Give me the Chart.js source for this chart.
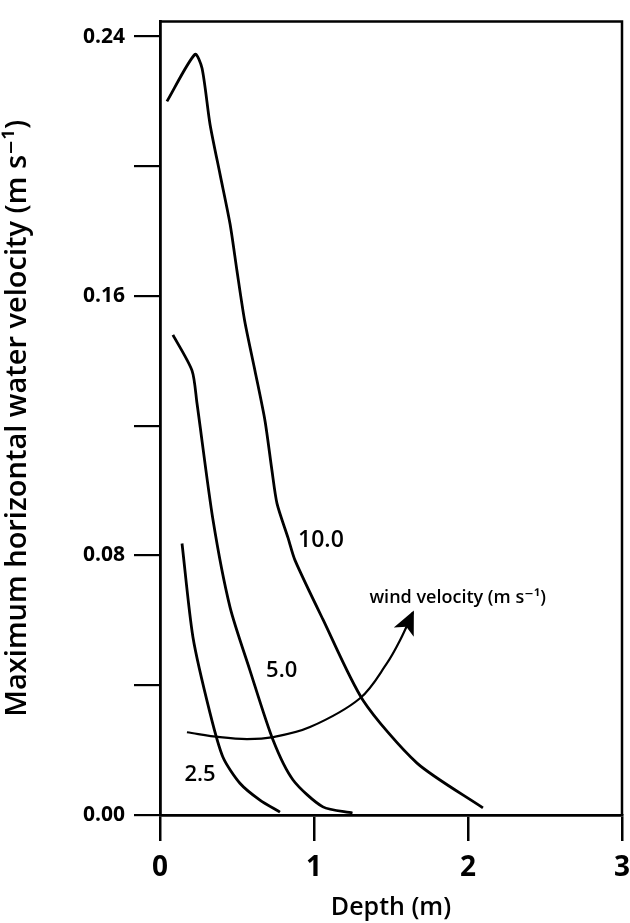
<!DOCTYPE html>
<html>
<head>
<meta charset="utf-8">
<script src="https://cdn.jsdelivr.net/npm/chart.js@4"></script>
<style>
  html, body { margin: 0; padding: 0; background: #fff; }
  canvas { display: block; }
</style>
</head>
<body>
<canvas id="velChart" width="630" height="923"></canvas>
<script>
/* Данные: глубина (м) и макс. горизонтальная скорость воды (м/с) */
const xTicks = [0, 1, 2, 3];
const yTicks = [0, 0.04, 0.08, 0.12, 0.16, 0.20, 0.24];
const yLabeled = [0, 0.08, 0.16, 0.24];

const depth10 = [0.045, 0.227, 0.273, 0.325, 0.390, 0.455, 0.500, 0.550, 0.617, 0.682, 0.727, 0.760, 0.831, 0.877, 1.058, 1.318, 1.669, 2.097];
const vel10   = [0.2200, 0.2345, 0.2302, 0.2129, 0.1975, 0.1822, 0.1677, 0.1523, 0.1369, 0.1215, 0.1062, 0.0960, 0.0855, 0.0785, 0.0603, 0.0354, 0.0160, 0.0022];

const depth5 = [0.084, 0.208, 0.240, 0.344, 0.455, 0.584, 0.734, 0.864, 1.058, 1.25];
const vel5   = [0.148, 0.137, 0.127, 0.091, 0.064, 0.0446, 0.0231, 0.0108, 0.0025, 0.0006];

const depth25 = [0.143, 0.214, 0.325, 0.409, 0.519, 0.649, 0.779];
const vel25   = [0.0837, 0.0548, 0.0314, 0.0178, 0.0098, 0.0046, 0.0009];

// стрелка "wind velocity"
const arrowX = [0.175, 0.390, 0.565, 0.734, 0.974, 1.299, 1.474, 1.558, 1.643];
const arrowY = [0.0255, 0.0240, 0.0234, 0.0240, 0.0271, 0.0360, 0.0468, 0.0538, 0.0625];

const curveLabels = ["10.0", "5.0", "2.5"];
const arrowLabel = "wind velocity (m s\u207B\u00B9)";

const toPoints = (xs, ys) => xs.map((x, i) => ({ x: x, y: ys[i] }));

/* Подписи у кривых (позиции в координатах данных) */
const notes = [
    { text: curveLabels[0], x: 1.045, y: 0.0846, size: 23 },
    { text: curveLabels[1], x: 0.79, y: 0.0446, size: 22 },
    { text: curveLabels[2], x: 0.26, y: 0.0123, size: 22 },
    { text: arrowLabel, x: 1.36, y: 0.0668, size: 18, align: "left" }
];

const FONT = "'Open Sans', 'DejaVu Sans', sans-serif";

/* Рамка сверху/справа, стрелка и подписи */
const extras = {
    id: "extras",
    afterDatasetsDraw(chart) {
        const { ctx, chartArea: a, scales: { x, y } } = chart;
        ctx.save();
        ctx.strokeStyle = "#000";
        ctx.lineWidth = 2.5;
        ctx.beginPath();
        ctx.moveTo(a.left, a.top);
        ctx.lineTo(a.right, a.top);
        ctx.lineTo(a.right, a.bottom);
        ctx.stroke();

        // наконечник стрелки
        const pts = chart.getDatasetMeta(3).data;
        const p1 = pts[pts.length - 2], p2 = pts[pts.length - 1];
        const ang = Math.atan2(p2.y - p1.y, p2.x - p1.x);
        const len = 22, half = 11;
        ctx.fillStyle = "#000";
        ctx.translate(p2.x, p2.y);
        ctx.rotate(ang);
        ctx.beginPath();
        ctx.moveTo(2, 0);
        ctx.lineTo(-len, -half);
        ctx.lineTo(-len + 6, 0);
        ctx.lineTo(-len, half);
        ctx.closePath();
        ctx.fill();
        ctx.setTransform(1, 0, 0, 1, 0, 0);

        // подписи
        notes.forEach(n => {
            ctx.font = `600 ${n.size}px ${FONT}`;
            ctx.textAlign = n.align || "center";
            ctx.textBaseline = "middle";
            ctx.fillText(n.text, x.getPixelForValue(n.x), y.getPixelForValue(n.y));
        });
        ctx.restore();
    }
};

const whiteBg = {
    id: "whiteBg",
    beforeDraw(chart) {
        const ctx = chart.ctx;
        ctx.save();
        ctx.fillStyle = "#fff";
        ctx.fillRect(0, 0, chart.width, chart.height);
        ctx.restore();
    }
};

const lineStyle = {
    borderColor: "#000",
    borderWidth: 2.8,
    pointRadius: 0,
    fill: false,
    tension: 0.25
};

new Chart(document.getElementById("velChart"), {
    type: "line",
    data: {
        datasets: [
            { label: curveLabels[0], data: toPoints(depth10, vel10), ...lineStyle },
            { label: curveLabels[1], data: toPoints(depth5, vel5), ...lineStyle },
            { label: curveLabels[2], data: toPoints(depth25, vel25), ...lineStyle },
            { label: "arrow", data: toPoints(arrowX, arrowY), ...lineStyle, borderWidth: 2.2, tension: 0.35 }
        ]
    },
    options: {
        responsive: false,
        animation: false,
        layout: { padding: { top: 20, right: 8, left: 0, bottom: 0 } },
        plugins: {
            legend: { display: false },
            tooltip: { enabled: false }
        },
        scales: {
            x: {
                type: "linear",
                min: 0,
                max: 3,
                afterBuildTicks: s => { s.ticks = xTicks.map(v => ({ value: v })); },
                afterFit: s => { s.height = 108; s.paddingRight = 0; s.paddingLeft = 0; },
                border: { display: true, color: "#000", width: 2.8 },
                grid: { drawOnChartArea: false, drawTicks: true, tickLength: 26, color: "#000", lineWidth: 2.5 },
                ticks: {
                    color: "#000",
                    padding: 10,
                    font: { family: FONT, size: 28, weight: "bold" },
                    callback: v => String(v)
                },
                title: {
                    display: true,
                    text: "Depth (m)",
                    color: "#000",
                    font: { family: FONT, size: 25, weight: "600" },
                    padding: { top: 0, bottom: 0 }
                }
            },
            y: {
                type: "linear",
                min: 0,
                max: 0.2446,
                afterBuildTicks: s => { s.ticks = yTicks.map(v => ({ value: v })); },
                afterFit: s => { s.width = 160; },
                border: { display: true, color: "#000", width: 2.8 },
                grid: { drawOnChartArea: false, drawTicks: true, tickLength: 26, color: "#000", lineWidth: 2.2 },
                ticks: {
                    color: "#000",
                    padding: 9,
                    font: { family: FONT, size: 21, weight: "bold" },
                    callback: v => yLabeled.some(t => Math.abs(t - v) < 1e-9) ? v.toFixed(2) : ""
                },
                title: {
                    display: true,
                    text: "Maximum horizontal water velocity (m s\u207B\u00B9)",
                    color: "#000",
                    font: { family: FONT, size: 29, weight: "600" },
                    padding: { top: 0, bottom: 0 }
                }
            }
        }
    },
    plugins: [whiteBg, extras]
});
</script>
</body>
</html>
